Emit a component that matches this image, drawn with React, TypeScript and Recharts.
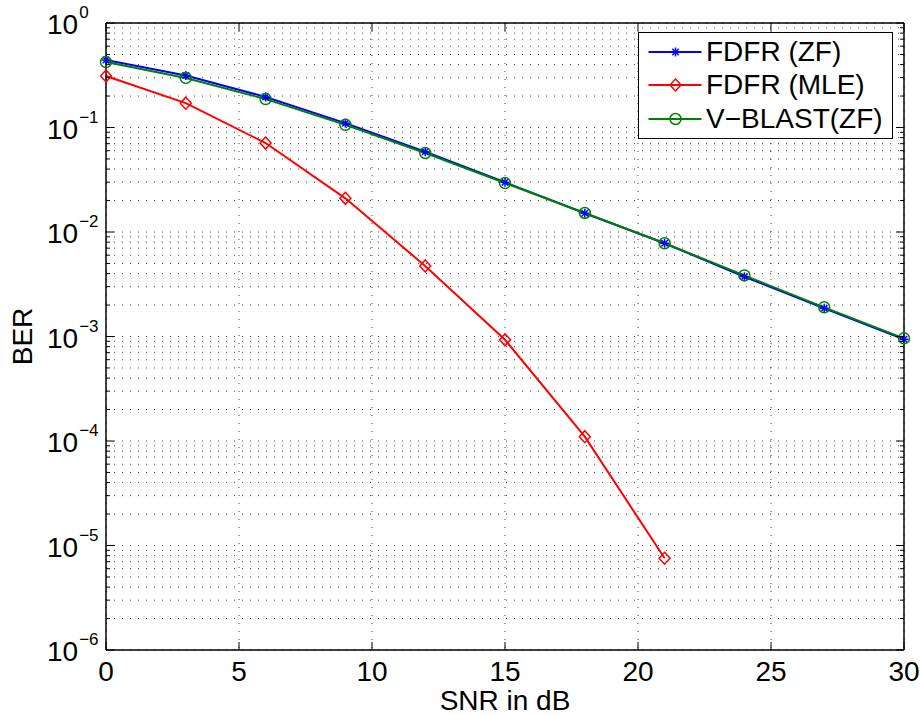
import { LineChart, Line, XAxis, YAxis, CartesianGrid, Legend, Label } from 'recharts'

// SNR points (dB) and BER values
const snr = [0, 3, 6, 9, 12, 15, 18, 21, 24, 27, 30]
const berZf = [0.442, 0.315, 0.196, 0.110, 0.0587, 0.0299, 0.0151, 0.0078, 0.00373, 0.00186, 0.00094]
const berMle = [0.311, 0.171, 0.071, 0.021, 0.00473, 0.00093, 0.00011, 7.55e-6]
const berVblast = [0.423, 0.298, 0.187, 0.106, 0.057, 0.0294, 0.0152, 0.0078, 0.00384, 0.0019, 0.00096]

const xTicks = [0, 5, 10, 15, 20, 25, 30]
const yDecades = [1e-6, 1e-5, 1e-4, 1e-3, 1e-2, 1e-1]
const yMinorSteps = [1, 2, 3, 4, 5, 6, 7, 8, 9]
const yTicks = [...yDecades.flatMap(d => yMinorSteps.map(m => m * d)), 1]

const FONT = '"Liberation Sans", Arial, Helvetica, sans-serif'

const rows = snr.map((s, i) => ({
  snr: s,
  zf: berZf[i],
  mle: berMle[i],
  vblast: berVblast[i],
}))

const series = [
  { key: 'zf', name: 'FDFR (ZF)', color: '#0000ff', marker: 'star' },
  { key: 'mle', name: 'FDFR (MLE)', color: '#ff0000', marker: 'diamond' },
  { key: 'vblast', name: 'V\u2212BLAST(ZF)', color: '#008000', marker: 'circle' },
]

function Marker({ kind, cx, cy, color }: { kind: string; cx: number; cy: number; color: string }) {
  if (kind === 'star') {
    const r = 4.5
    const d = r * 0.72
    return (
      <g stroke={color} strokeWidth={1.5}>
        <line x1={cx - r} x2={cx + r} y1={cy} y2={cy} />
        <line x1={cx} x2={cx} y1={cy - r} y2={cy + r} />
        <line x1={cx - d} x2={cx + d} y1={cy - d} y2={cy + d} />
        <line x1={cx - d} x2={cx + d} y1={cy + d} y2={cy - d} />
      </g>
    )
  }
  if (kind === 'diamond') {
    return (
      <polygon
        points={`${cx},${cy - 6} ${cx + 5.5},${cy} ${cx},${cy + 6} ${cx - 5.5},${cy}`}
        fill="none"
        stroke={color}
        strokeWidth={1.5}
      />
    )
  }
  return <circle cx={cx} cy={cy} r={5.5} fill="none" stroke={color} strokeWidth={1.5} />
}

const isMajor = (v: number) => {
  const l = Math.log10(v)
  return Math.abs(l - Math.round(l)) < 1e-9
}

const LeftTick = ({ x, y, payload }: any) => {
  const v = payload.value
  const major = isMajor(v)
  const e = Math.round(Math.log10(v))
  return (
    <g>
      <line x1={x} x2={x + (major ? 8 : 4)} y1={y} y2={y} stroke="#000" strokeWidth={1} />
      {major && (
        <text x={x - 59} y={y + 11} fontSize={28} fill="#000" fontFamily={FONT}>
          10
          <tspan dx={1} dy={-16} fontSize={17}>{e === 0 ? '0' : '\u2212' + -e}</tspan>
        </text>
      )}
    </g>
  )
}

const RightTick = ({ x, y, payload }: any) => {
  const major = isMajor(payload.value)
  return <line x1={x} x2={x - (major ? 8 : 4)} y1={y} y2={y} stroke="#000" strokeWidth={1} />
}

const BottomTick = ({ x, y, payload }: any) => (
  <g>
    <line x1={x} x2={x} y1={y} y2={y - 8} stroke="#000" strokeWidth={1} />
    <text x={x} y={y + 31} textAnchor="middle" fontSize={28} fill="#000" fontFamily={FONT}>
      {payload.value}
    </text>
  </g>
)

const TopTick = ({ x, y }: any) => <line x1={x} x2={x} y1={y} y2={y + 8} stroke="#000" strokeWidth={1} />

// legend drawn in series order (not the library's alphabetical order)
const LegendBox = () => (
  <div
    style={{
      width: 255,
      height: 107,
      border: '1.5px solid #000',
      background: '#fff',
      boxSizing: 'border-box',
      position: 'relative',
      fontFamily: FONT,
    }}
  >
    {series.map((s, i) => (
      <div key={s.key} style={{ position: 'absolute', left: 0, top: 4.5 + i * 33.5, height: 28, width: '100%' }}>
        <svg width={66} height={28} style={{ position: 'absolute', left: 0, top: 0 }}>
          <line x1={9.5} x2={62.5} y1={14} y2={14} stroke={s.color} strokeWidth={2} />
          <Marker kind={s.marker} cx={36.5} cy={14} color={s.color} />
        </svg>
        <span
          style={{
            position: 'absolute',
            left: 67,
            top: 0,
            fontSize: 28,
            lineHeight: '28px',
            whiteSpace: 'nowrap',
            color: '#000',
          }}
        >
          {s.name}
        </span>
      </div>
    ))}
  </div>
)

export default function App() {
  return (
    <div style={{ position: 'absolute', left: 0, top: 0, width: 920, height: 715, background: '#fff' }}>
      <LineChart width={920} height={715} data={rows} margin={{ top: 0, right: 0, bottom: 0, left: 0 }} style={{ fontFamily: FONT }}>
        <CartesianGrid xAxisId="b" yAxisId="l" stroke="#444" strokeDasharray="1 7" strokeWidth={1} />
        <XAxis
          xAxisId="b"
          dataKey="snr"
          type="number"
          domain={[0, 30]}
          ticks={xTicks}
          interval={0}
          height={65}
          tickSize={0}
          tickMargin={0}
          tickLine={false}
          axisLine={{ stroke: '#000', strokeWidth: 1.5 }}
          tick={BottomTick}
        >
          <Label
            content={(props: any) => {
              const vb = props.viewBox
              return (
                <text x={vb.x + vb.width / 2} y={vb.y + 60} textAnchor="middle" fontSize={28} fill="#000" fontFamily={FONT}>
                  SNR in dB
                </text>
              )
            }}
          />
        </XAxis>
        <XAxis
          xAxisId="t"
          orientation="top"
          dataKey="snr"
          type="number"
          domain={[0, 30]}
          ticks={xTicks}
          interval={0}
          height={23}
          tickSize={0}
          tickMargin={0}
          tickLine={false}
          axisLine={{ stroke: '#000', strokeWidth: 1.5 }}
          tick={TopTick}
        />
        <YAxis
          yAxisId="l"
          scale="log"
          type="number"
          domain={[1e-6, 1]}
          allowDataOverflow
          ticks={yTicks}
          interval={0}
          width={106}
          tickSize={0}
          tickMargin={0}
          tickLine={false}
          axisLine={{ stroke: '#000', strokeWidth: 1.5 }}
          tick={LeftTick}
        >
          <Label
            content={(props: any) => {
              const vb = props.viewBox
              const cx = vb.x + 32
              const cy = vb.y + vb.height / 2
              return (
                <text
                  x={cx}
                  y={cy}
                  textAnchor="middle"
                  fontSize={28}
                  fill="#000"
                  fontFamily={FONT}
                  transform={`rotate(-90 ${cx} ${cy})`}
                >
                  BER
                </text>
              )
            }}
          />
        </YAxis>
        <YAxis
          yAxisId="r"
          orientation="right"
          scale="log"
          type="number"
          domain={[1e-6, 1]}
          allowDataOverflow
          ticks={yTicks}
          interval={0}
          width={16}
          tickSize={0}
          tickMargin={0}
          tickLine={false}
          axisLine={{ stroke: '#000', strokeWidth: 1.5 }}
          tick={RightTick}
        />
        <Legend
          layout="vertical"
          align="center"
          verticalAlign="middle"
          wrapperStyle={{ left: 638, top: 32, width: 255, height: 107 }}
          content={<LegendBox />}
        />
        {series.map(s => (
          <Line
            key={s.key}
            xAxisId="b"
            yAxisId="l"
            dataKey={s.key}
            name={s.name}
            stroke={s.color}
            strokeWidth={2}
            type="linear"
            isAnimationActive={false}
            dot={(p: any) =>
              p.value == null || p.cy == null ? (
                <g key={`${s.key}-${p.index}`} />
              ) : (
                <Marker key={`${s.key}-${p.index}`} kind={s.marker} cx={p.cx} cy={p.cy} color={s.color} />
              )
            }
          />
        ))}
      </LineChart>
    </div>
  )
}
